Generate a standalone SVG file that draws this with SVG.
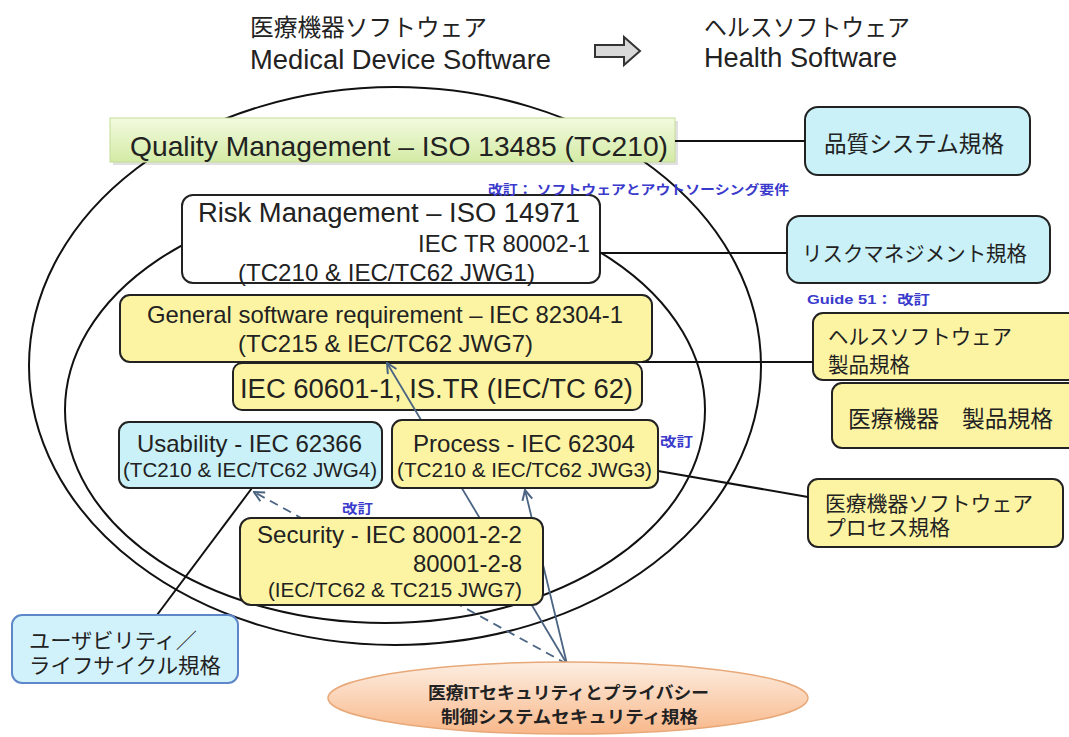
<svg xmlns="http://www.w3.org/2000/svg" width="1069" height="737" viewBox="0 0 1069 737">
<style>
text{font-family:"Liberation Sans","Noto Sans CJK JP",sans-serif;fill:#222}
.t24{font-size:24px}.t27{font-size:27px}.t21{font-size:21px}.t20{font-size:20.5px}.t23{font-size:23px}
.note{font-size:13px;font-weight:bold;fill:#3a3acc}
.box{stroke:#222;stroke-width:2}
.yel{fill:#fcf4a3}.cya{fill:#c9f1f7}.wht{fill:#fff}
.ring{fill:none;stroke:#111;stroke-width:2}
.link{stroke:#111;stroke-width:2;fill:none}
.arr{stroke:#4a6482;stroke-width:1.8;fill:none}
</style>
<defs>
<linearGradient id="gq" x1="0" y1="0" x2="0" y2="1"><stop offset="0" stop-color="#f3fadf"/><stop offset="1" stop-color="#d3eba5"/></linearGradient>
<linearGradient id="go" x1="0" y1="0" x2="0" y2="1"><stop offset="0" stop-color="#fdeee2"/><stop offset="1" stop-color="#f8b88a"/></linearGradient>
<marker id="ah" viewBox="0 0 12 12" refX="11" refY="6" markerWidth="12" markerHeight="12" markerUnits="userSpaceOnUse" orient="auto"><path d="M1,1 L11,6 L1,11" fill="none" stroke="#4a6482" stroke-width="2"/></marker>
</defs>

<g id="title">
<text x="250" y="36" class="t24" textLength="237" lengthAdjust="spacingAndGlyphs">医療機器ソフトウェア</text>
<text x="250" y="69" class="t27" textLength="301" lengthAdjust="spacingAndGlyphs">Medical Device Software</text>
<polygon points="595,45 624,45 624,37 640,51 624,65 624,57 595,57" fill="#d9d9d9" stroke="#333" stroke-width="2"/>
<text x="704" y="36" class="t24" textLength="206" lengthAdjust="spacingAndGlyphs">ヘルスソフトウェア</text>
<text x="704" y="67" class="t27" textLength="193" lengthAdjust="spacingAndGlyphs">Health Software</text>
</g>

<g id="rings">
<ellipse cx="395" cy="366" rx="366" ry="279" class="ring"/>
<ellipse cx="385" cy="410" rx="320" ry="213" class="ring"/>
</g>

<g id="quality">
<rect x="113" y="121" width="565" height="44" fill="#000" opacity="0.12"/>
<rect x="110" y="118" width="565" height="44" fill="url(#gq)" stroke="#c4dc98" stroke-width="1"/>
<text x="130" y="156" font-size="28" textLength="538" lengthAdjust="spacingAndGlyphs">Quality Management – ISO 13485 (TC210)</text>
</g>

<g id="risk">
<rect x="182" y="195" width="418" height="88" rx="11" class="box wht"/>
<text x="198" y="222" class="t27" textLength="382" lengthAdjust="spacingAndGlyphs">Risk Management – ISO 14971</text>
<text x="418" y="252" class="t24" textLength="172" lengthAdjust="spacingAndGlyphs">IEC TR 80002-1</text>
<text x="238" y="281" class="t24" textLength="297" lengthAdjust="spacingAndGlyphs">(TC210 &amp; IEC/TC62 JWG1)</text>
</g>

<g id="general">
<rect x="120" y="295" width="532" height="67" rx="10" class="box yel"/>
<text x="147" y="323" class="t24" textLength="476" lengthAdjust="spacingAndGlyphs">General software requirement – IEC 82304-1</text>
<text x="238" y="352" class="t24" textLength="295" lengthAdjust="spacingAndGlyphs">(TC215 &amp; IEC/TC62 JWG7)</text>
</g>

<g id="iec60601">
<rect x="233" y="363" width="409" height="47" rx="9" class="box yel"/>
<text x="240" y="398" class="t27" textLength="393" lengthAdjust="spacingAndGlyphs">IEC 60601-1, IS.TR (IEC/TC 62)</text>
</g>

<g id="qms">
<rect x="805" y="107" width="225" height="68" rx="13" class="box cya"/>
<text x="824" y="152" class="t23" textLength="180" lengthAdjust="spacingAndGlyphs">品質システム規格</text>
</g>

<g id="rms">
<rect x="787" y="216" width="263" height="67" rx="13" class="box cya"/>
<text x="802" y="261" class="t21" textLength="225" lengthAdjust="spacingAndGlyphs">リスクマネジメント規格</text>
</g>

<g id="health">
<rect x="813" y="313" width="270" height="67" rx="10" class="box yel"/>
<text x="828" y="344" class="t21" textLength="184" lengthAdjust="spacingAndGlyphs">ヘルスソフトウェア</text>
<text x="828" y="372" class="t21" textLength="82" lengthAdjust="spacingAndGlyphs">製品規格</text>
</g>

<g id="mdprod">
<rect x="832" y="383" width="250" height="65" rx="10" class="box yel"/>
<text x="848" y="427" class="t23" textLength="205" lengthAdjust="spacingAndGlyphs">医療機器　製品規格</text>
</g>

<g id="mdsw">
<rect x="808" y="479" width="255" height="68" rx="10" class="box yel"/>
<text x="825" y="511" class="t21" textLength="208" lengthAdjust="spacingAndGlyphs">医療機器ソフトウェア</text>
<text x="825" y="535" class="t21" textLength="125" lengthAdjust="spacingAndGlyphs">プロセス規格</text>
</g>

<g id="connectors">
<line x1="675" y1="141" x2="805" y2="141" class="link"/>
<line x1="600" y1="253" x2="787" y2="253" class="link"/>
<line x1="642" y1="362" x2="813" y2="362" class="link"/>
<line x1="658" y1="471" x2="808" y2="497" class="link"/>
<line x1="157" y1="615" x2="252" y2="488" class="link"/>
<line x1="567" y1="664" x2="254" y2="492" class="arr" stroke-dasharray="9,6" marker-end="url(#ah)"/>
<line x1="567" y1="664" x2="525" y2="490" class="arr" marker-end="url(#ah)"/>
<line x1="567" y1="664" x2="387" y2="363" class="arr" marker-end="url(#ah)"/>
</g>

<g id="usability">
<rect x="119" y="422" width="263" height="66" rx="10" class="box cya"/>
<text x="137" y="452" class="t24" textLength="225" lengthAdjust="spacingAndGlyphs">Usability - IEC 62366</text>
<text x="123" y="477" class="t20" textLength="254" lengthAdjust="spacingAndGlyphs">(TC210 &amp; IEC/TC62 JWG4)</text>
</g>

<g id="process">
<rect x="392" y="420" width="266" height="68" rx="10" class="box yel"/>
<text x="413" y="452" class="t24" textLength="222" lengthAdjust="spacingAndGlyphs">Process - IEC 62304</text>
<text x="397" y="477" class="t20" textLength="255" lengthAdjust="spacingAndGlyphs">(TC210 &amp; IEC/TC62 JWG3)</text>
</g>

<g id="security">
<rect x="240" y="518" width="303" height="87" rx="11" class="box yel"/>
<text x="257" y="543" class="t24" textLength="265" lengthAdjust="spacingAndGlyphs">Security - IEC 80001-2-2</text>
<text x="413" y="572" class="t24" textLength="109" lengthAdjust="spacingAndGlyphs">80001-2-8</text>
<text x="268" y="597" class="t20" textLength="254" lengthAdjust="spacingAndGlyphs">(IEC/TC62 &amp; TC215 JWG7)</text>
</g>

<g id="lifecycle">
<rect x="12" y="615" width="226" height="68" rx="10" fill="#d2f2fb" stroke="#5d87c9" stroke-width="2"/>
<text x="29" y="648" class="t21" textLength="168" lengthAdjust="spacingAndGlyphs">ユーザビリティ／</text>
<text x="29" y="673" class="t21" textLength="192" lengthAdjust="spacingAndGlyphs">ライフサイクル規格</text>
</g>

<g id="itsec">
<ellipse cx="568" cy="698" rx="240" ry="36" fill="url(#go)" stroke="#e8a878" stroke-width="1.5"/>
<text x="428" y="699" font-size="17" font-weight="bold" textLength="281" lengthAdjust="spacingAndGlyphs">医療ITセキュリティとプライバシー</text>
<text x="441" y="723" font-size="17" font-weight="bold" textLength="257" lengthAdjust="spacingAndGlyphs">制御システムセキュリティ規格</text>
</g>

<g id="notes">
<text x="488" y="194" class="note" textLength="301" lengthAdjust="spacingAndGlyphs">改訂： ソフトウェアとアウトソーシング要件</text>
<text x="807" y="304" class="note" textLength="123" lengthAdjust="spacingAndGlyphs">Guide 51： 改訂</text>
<text x="660" y="446" class="note" font-size="14" textLength="33" lengthAdjust="spacingAndGlyphs">改訂</text>
<text x="342" y="513" class="note" textLength="31" lengthAdjust="spacingAndGlyphs">改訂</text>
</g>
</svg>
